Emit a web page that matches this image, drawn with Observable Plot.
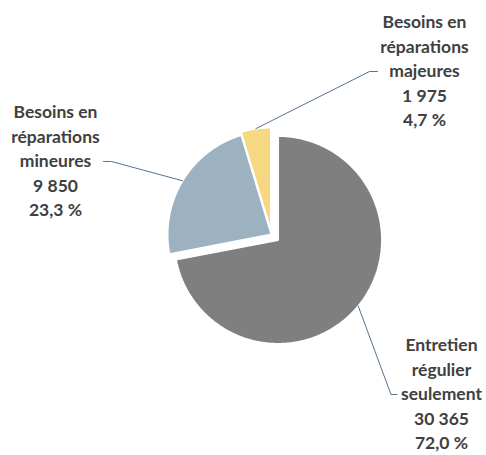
<!DOCTYPE html>
<html><head><meta charset="utf-8">
<script src="https://cdn.jsdelivr.net/npm/d3@7"></script>
<script src="https://cdn.jsdelivr.net/npm/@observablehq/plot@0.6"></script>
<style>html,body{margin:0;padding:0;background:#fff;}</style>
</head><body><div id="chart"></div>
<script>
// ---- data ----
const categories = ["Entretien\nrégulier\nseulement", "Besoins en\nréparations\nmineures", "Besoins en\nréparations\nmajeures"];
const counts = [30365, 9850, 1975];
const percents = [72.0, 23.3, 4.7];
const colors = ["#7f7f7f", "#9db2c1", "#f6d883"];

// ---- layout (pixels) ----
const W = 486, H = 455;
const CX = 271, CY = 234, R = 104;
const explode = [8.5, 0, 3];
const labelCenter = [[441, 392], [55, 159], [424, 69]];
const leaderEnd = [[396.5, 394], [103, 161], [377, 71]];
const elbow = [6, -8, 8];

const fr = d3.formatLocale({decimal: ",", thousands: "\u00a0", grouping: [3], currency: ["", " €"]});
const fmtN = fr.format(",d"), fmtP = fr.format(".1f");

const idx = d3.range(categories.length);
const arcs = d3.pie().sort(null).value(i => counts[i])(idx);

const slicePts = [];
const leaderPts = [];
const labels = [];
arcs.forEach(a => {
  const i = a.data;
  const mid = (a.startAngle + a.endAngle) / 2;
  const ox = explode[i] * Math.sin(mid), oy = explode[i] * Math.cos(mid);
  slicePts.push({i, x: ox, y: oy});
  const steps = Math.max(2, Math.ceil((a.endAngle - a.startAngle) * 180 / Math.PI * 2));
  for (let k = 0; k <= steps; k++) {
    const t = a.startAngle + (a.endAngle - a.startAngle) * k / steps;
    slicePts.push({i, x: ox + R * Math.sin(t), y: oy + R * Math.cos(t)});
  }
  const ex = leaderEnd[i][0] - CX, ey = CY - leaderEnd[i][1];
  leaderPts.push({i, x: ox + R * Math.sin(mid), y: oy + R * Math.cos(mid)});
  leaderPts.push({i, x: ex - elbow[i], y: ey});
  leaderPts.push({i, x: ex, y: ey});
  labels.push({i, x: labelCenter[i][0] - CX, y: CY - labelCenter[i][1],
    text: categories[i] + "\n" + fmtN(counts[i]) + "\n" + fmtP(percents[i]) + "\u00a0%"});
});

const chart = Plot.plot({
  width: W, height: H,
  margin: 0,
  x: {domain: [-CX, W - CX], range: [0, W], axis: null},
  y: {domain: [-(H - CY), CY], range: [H, 0], axis: null},
  color: {domain: idx, range: colors},
  style: {background: "#fff"},
  marks: [
    Plot.line(slicePts, {x: "x", y: "y", z: "i", fill: "i", stroke: "#fff", strokeWidth: 2, strokeLinejoin: "miter", curve: "linear-closed"}),
    Plot.line(leaderPts, {x: "x", y: "y", z: "i", stroke: "#56748f", strokeWidth: 1}),
    Plot.text(labels, {x: "x", y: "y", text: "text", lineAnchor: "middle", lineHeight: 1.4,
      fontSize: 17.5, fontWeight: "bold", fontFamily: "Lato", fill: "#404040"})
  ]
});
document.getElementById("chart").appendChild(chart);
</script>
</body></html>
